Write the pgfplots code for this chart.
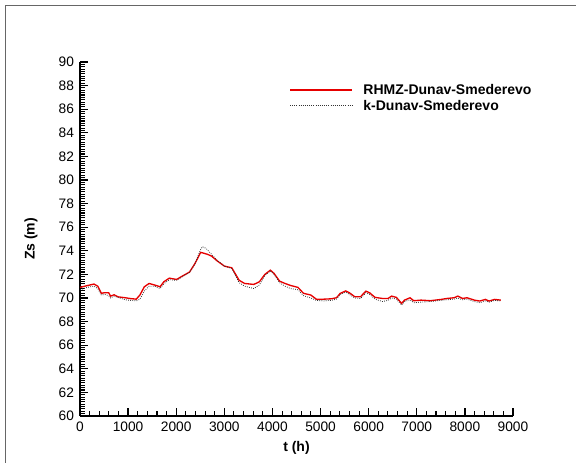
\documentclass[border=0pt]{standalone}
\usepackage{pgfplots}
\pgfplotsset{compat=1.18}
\usepackage{pgfplotstable}
\usepackage{fontspec}
\setmainfont{Liberation Sans}
\definecolor{rline}{RGB}{230,0,0}
\pgfplotstableread{
t z
0 70.9
150 71.05
290 71.18
370 71.0
443 70.4
520 70.45
596 70.45
634 70.16
710 70.27
787 70.1
940 70.02
1050 69.95
1169 69.9
1245 70.25
1337 70.95
1436 71.23
1551 71.1
1665 70.95
1742 71.37
1856 71.68
2009 71.57
2124 71.85
2277 72.2
2391 72.93
2506 73.86
2544 73.83
2650 73.7
2735 73.55
2849 73.15
3002 72.7
3155 72.56
3308 71.5
3422 71.23
3613 71.15
3728 71.37
3843 72.0
3957 72.36
4034 72.08
4148 71.43
4263 71.23
4377 71.06
4530 70.9
4645 70.4
4797 70.25
4912 69.9
5065 69.9
5218 69.93
5332 70.02
5408 70.39
5523 70.6
5600 70.44
5714 70.1
5829 70.1
5943 70.58
6020 70.44
6134 70.05
6287 69.96
6402 69.96
6478 70.16
6577 70.05
6685 69.54
6745 69.82
6860 70.02
6937 69.77
7090 69.82
7281 69.77
7510 69.88
7624 69.96
7777 70.02
7853 70.16
7952 69.96
8044 70.02
8197 69.82
8311 69.74
8426 69.88
8502 69.74
8617 69.88
8747 69.82
}\rhmz
\pgfplotstableread{
t z
0 70.7
150 70.9
290 71.0
370 70.8
443 70.25
520 70.3
596 70.2
634 70.0
710 70.15
787 70.05
940 69.85
1050 69.8
1169 69.75
1245 69.9
1337 70.6
1436 71.0
1551 71.0
1665 70.8
1742 71.2
1856 71.55
2009 71.5
2124 71.8
2277 72.15
2391 72.9
2506 74.1
2544 74.35
2620 74.2
2735 73.7
2849 73.2
3002 72.7
3155 72.5
3308 71.3
3422 71.0
3613 70.8
3728 71.1
3843 71.9
3957 72.3
4034 72.0
4148 71.3
4263 71.0
4377 70.8
4530 70.7
4645 70.2
4797 70.0
4912 69.8
5065 69.75
5218 69.8
5332 69.9
5408 70.3
5523 70.5
5600 70.3
5714 70.0
5829 69.95
5943 70.45
6020 70.3
6134 69.9
6287 69.7
6402 69.8
6478 70.0
6577 69.9
6685 69.4
6745 69.7
6860 69.85
6937 69.6
7090 69.65
7281 69.7
7510 69.8
7624 69.85
7777 69.9
7853 70.0
7952 69.85
8044 69.9
8197 69.7
8311 69.6
8426 69.75
8502 69.65
8617 69.8
8747 69.75
}\kdunav
\begin{document}
\begin{tikzpicture}[x=0.75pt,y=0.75pt]
\useasboundingbox (0,0) rectangle (576,463);
\draw[black!60, line width=0.8pt] (5.5,-5) rectangle (590,457.5);
\begin{axis}[
  at={(60pt,35.25pt)}, anchor=south west,
  scale only axis, width=324.75pt, height=265.5pt,
  xmin=0, xmax=9000, ymin=60, ymax=90,
  axis x line=bottom, axis y line=left,
  axis line style={-, line width=1.5pt},
  xtick={0,1000,...,9000}, ytick={60,62,...,90},
  minor x tick num=4, minor y tick num=9,
  tick align=inside,
  major tick length=6pt, minor tick length=3.5pt,
  tick style={black, line width=1pt},
  minor tick style={line width=0.8pt},
  tick label style={font=\fontsize{10.3}{11}\selectfont},
  /pgf/number format/assume math mode=true,
  /pgf/number format/1000 sep={},
  xticklabel style={yshift=-1pt},
  yticklabel style={xshift=-1pt},
  clip=false,
]
\addplot[color=rline, line width=1pt] table[x=t,y=z] {\rhmz};
\addplot[color=black!80, densely dotted, line width=0.6pt] table[x=t,y=z] {\kdunav};
\draw[rline, line width=1pt] (axis description cs:0.485,0.921) -- (axis description cs:0.628,0.921);
\draw[black!80, densely dotted, line width=0.6pt] (axis description cs:0.485,0.8785) -- (axis description cs:0.628,0.8785);
\node[anchor=base west, inner sep=0pt, font=\bfseries\fontsize{10.5}{12}\selectfont] at (axis description cs:0.654,0.907) {RHMZ-Dunav-Smederevo};
\node[anchor=base west, inner sep=0pt, font=\bfseries\fontsize{10.5}{12}\selectfont] at (axis description cs:0.654,0.864) {k-Dunav-Smederevo};
\end{axis}
\node[font=\bfseries\fontsize{10.5}{12}\selectfont] at (296.5,15) {t (h)};
\node[font=\bfseries\fontsize{10.5}{12}\selectfont, rotate=90] at (31,224) {Zs (m)};
\end{tikzpicture}
\end{document}
